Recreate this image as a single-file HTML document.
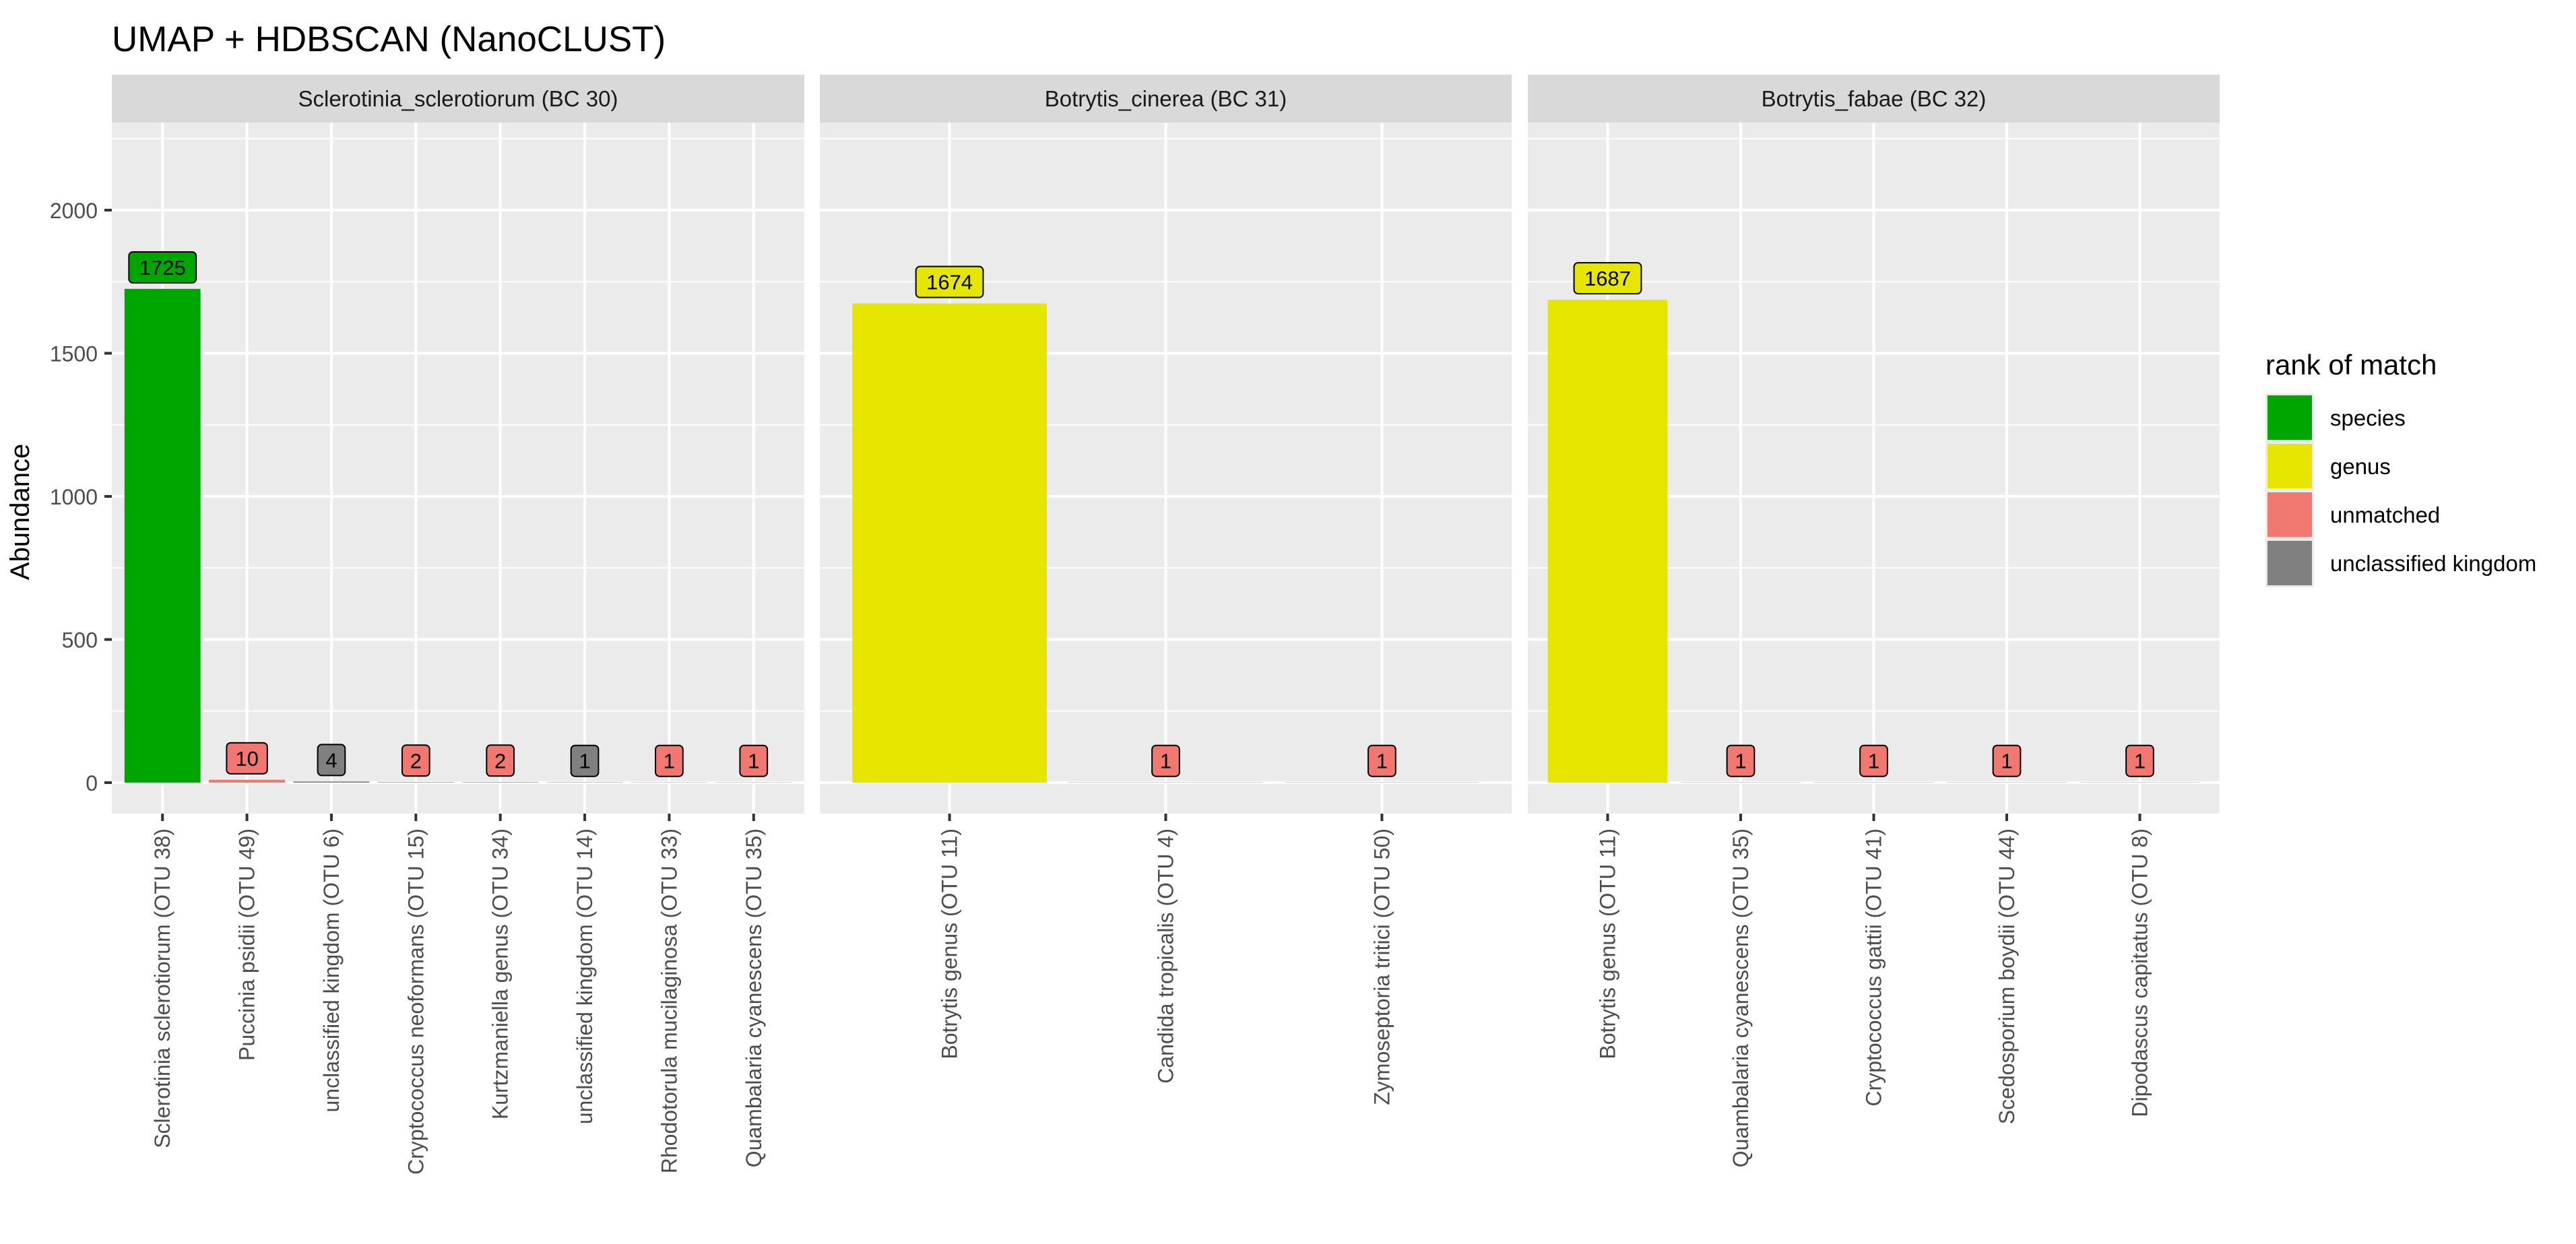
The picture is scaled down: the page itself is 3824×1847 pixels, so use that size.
<!DOCTYPE html>
<html><head><meta charset="utf-8"><style>
html,body{margin:0;padding:0;background:#fff}
svg{display:block;font-family:"Liberation Sans",sans-serif}
</style></head><body>
<svg id="chart" width="3824" height="1847" viewBox="0 0 3824 1847" xmlns="http://www.w3.org/2000/svg">
<rect width="3824" height="1847" fill="#fff"/>
<text x="166" y="76" font-size="53" fill="#000">UMAP + HDBSCAN (NanoCLUST)</text>
<text transform="translate(43,760) rotate(-90)" text-anchor="middle" font-size="40" fill="#000">Abundance</text>
<g id="panels"></g>
<g id="legend"></g>
</svg>
<script>
const panelTitles = ["Sclerotinia_sclerotiorum (BC 30)", "Botrytis_cinerea (BC 31)", "Botrytis_fabae (BC 32)"];
const p1Categories = ["Sclerotinia sclerotiorum (OTU 38)","Puccinia psidii (OTU 49)","unclassified kingdom (OTU 6)","Cryptococcus neoformans (OTU 15)","Kurtzmaniella genus (OTU 34)","unclassified kingdom (OTU 14)","Rhodotorula mucilaginosa (OTU 33)","Quambalaria cyanescens (OTU 35)"];
const p1Values = [1725,10,4,2,2,1,1,1];
const p1Ranks = ["species","unmatched","unclassified kingdom","unmatched","unmatched","unclassified kingdom","unmatched","unmatched"];
const p2Categories = ["Botrytis genus (OTU 11)","Candida tropicalis (OTU 4)","Zymoseptoria tritici (OTU 50)"];
const p2Values = [1674,1,1];
const p2Ranks = ["genus","unmatched","unmatched"];
const p3Categories = ["Botrytis genus (OTU 11)","Quambalaria cyanescens (OTU 35)","Cryptococcus gattii (OTU 41)","Scedosporium boydii (OTU 44)","Dipodascus capitatus (OTU 8)"];
const p3Values = [1687,1,1,1,1];
const p3Ranks = ["genus","unmatched","unmatched","unmatched","unmatched"];
const yTicks = [0,500,1000,1500,2000];
const yMinor = [250,750,1250,1750,2250];
const legendLabels = ["species","genus","unmatched","unclassified kingdom"];
const legendColors = ["#00A600","#E6E600","#F07870","#808080"];

const NS = "http://www.w3.org/2000/svg";
const plotTop = 182, plotBottom = 1208, yZero = 1162, pxPerUnit = 0.425;
const y = v => yZero - v * pxPerUnit;
const colorOf = r => legendColors[legendLabels.indexOf(r)];
function mk(tag, attrs, parent){ const e=document.createElementNS(NS,tag); for(const k in attrs) e.setAttribute(k,attrs[k]); parent.appendChild(e); return e; }

const panelsG = document.getElementById('panels');
const panelX = [[166,1194],[1217,2244],[2268,3295]];
const data = [[p1Categories,p1Values,p1Ranks],[p2Categories,p2Values,p2Ranks],[p3Categories,p3Values,p3Ranks]];

data.forEach((d, pi) => {
  const [cats, vals, ranks] = d;
  const [x0, x1] = panelX[pi];
  const g = mk('g', {}, panelsG);
  
  
  const strip = mk('rect', {x:x0, y:111, width:x1-x0, height:71, fill:'#D9D9D9'}, g);
  
  
  const st = mk('text', {x:(x0+x1)/2, y:158, 'text-anchor':'middle', 'font-size':33, fill:'#1A1A1A'}, g);
  
  
  st.textContent = panelTitles[pi];
  const bg = mk('rect', {x:x0, y:plotTop, width:x1-x0, height:plotBottom-plotTop, fill:'#EBEBEB'}, g);
  
  
  yMinor.forEach(v => { if (y(v) > plotTop) { const l = mk('line', {x1:x0, x2:x1, y1:y(v), y2:y(v), stroke:'#fff', 'stroke-width':2}, g);
    
     } });
  yTicks.forEach(v => { const l = mk('line', {x1:x0, x2:x1, y1:y(v), y2:y(v), stroke:'#fff', 'stroke-width':4}, g);
    
     });
  const n = cats.length;
  const step = (x1 - x0) / (n + 0.2);
  const xc = i => x0 + step * (0.6 + i);
  cats.forEach((c, i) => {
    const l = mk('line', {x1:xc(i), x2:xc(i), y1:plotTop, y2:plotBottom, stroke:'#fff', 'stroke-width':4}, g);
    
    
  });
  cats.forEach((c, i) => {
    const bw = step * 0.9;
    const b = mk('rect', {x:xc(i)-bw/2, y:y(vals[i]), width:bw, height:Math.max(vals[i]*pxPerUnit,0.5), fill:colorOf(ranks[i])}, g);
    
    
    const txt = String(vals[i]);
    const lw = 19.7 * txt.length + 21, lh = 46, cy = y(vals[i] + 75);
    const lb = mk('rect', {x:xc(i)-lw/2, y:cy-lh/2, width:lw, height:lh, rx:6, fill:colorOf(ranks[i]), stroke:'#000', 'stroke-width':2}, g);
    
    
    const lt = mk('text', {x:xc(i), y:cy+11, 'text-anchor':'middle', 'font-size':31, fill:'#000'}, g);
    
    
    lt.textContent = txt;
    const tk = mk('line', {x1:xc(i), x2:xc(i), y1:plotBottom, y2:plotBottom+11, stroke:'#333', 'stroke-width':4}, g);
    
    
    const xl = mk('text', {transform:'translate('+(xc(i)+11)+','+(plotBottom+22)+') rotate(-90)', 'text-anchor':'end', 'font-size':32, fill:'#4D4D4D'}, g);
    
    
    xl.textContent = c;
  });
});

const ax = mk('g', {}, panelsG);


yTicks.forEach(v => {
  const t = mk('line', {x1:155, x2:166, y1:y(v), y2:y(v), stroke:'#333', 'stroke-width':4}, ax);
  
  
  const tl = mk('text', {x:145, y:y(v)+12, 'text-anchor':'end', 'font-size':32, fill:'#4D4D4D'}, ax);
  
  
  tl.textContent = String(v);
});

const lg = document.getElementById('legend');
const lgt = mk('text', {x:3363, y:556, 'font-size':42, fill:'#000'}, lg);


lgt.textContent = 'rank of match';
legendLabels.forEach((lab, i) => {
  const yy = 584 + i * 72;
  const bgk = mk('rect', {x:3363, y:yy, width:72, height:72, fill:'#EBEBEB'}, lg);
  
  
  const k = mk('rect', {x:3366, y:yy+3, width:66, height:66, fill:legendColors[i]}, lg);
  
  
  const t = mk('text', {x:3459, y:yy+48, 'font-size':33, fill:'#000'}, lg);
  
  
  t.textContent = lab;
});
</script>
</body></html>
